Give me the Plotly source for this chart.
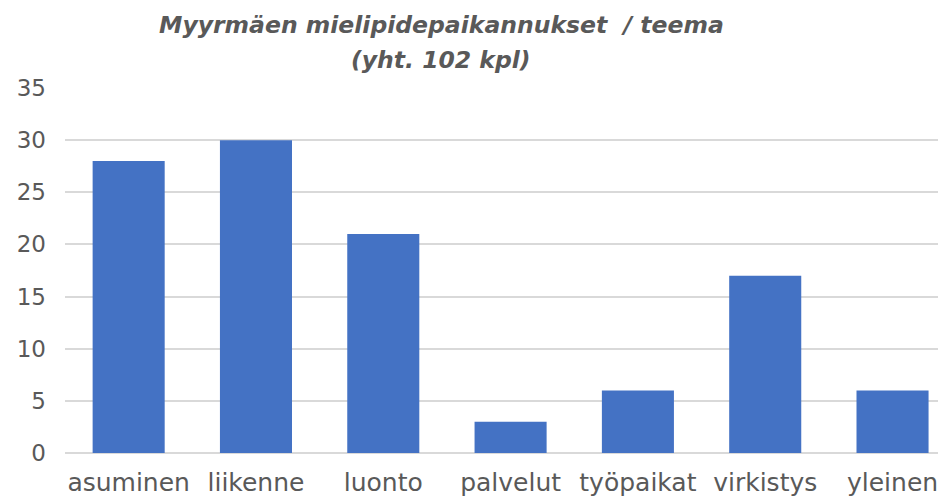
import plotly.graph_objects as go

categories = ["asuminen", "liikenne", "luonto", "palvelut", "työpaikat", "virkistys", "yleinen"]
values = [28, 30, 21, 3, 6, 17, 6]
y_ticks = [0, 5, 10, 15, 20, 25, 30, 35]
title_lines = ["Myyrmäen mielipidepaikannukset  / teema", "(yht. 102 kpl)"]

fig = go.Figure(go.Bar(x=categories, y=values, marker=dict(color="#4472C4", line=dict(width=0))))

gray = "#595959"
FONT = "DejaVu Sans, sans-serif"
title_y = [1.1726, 1.0767]
fig.update_layout(
    width=938, height=491,
    margin=dict(l=57, r=0, t=80, b=46),
    paper_bgcolor="white", plot_bgcolor="white",
    bargap=0.434,
    showlegend=False,
    font=dict(family=FONT, color=gray),
    annotations=[dict(
        text="<b><i>" + t + "</i></b>",
        xref="paper", yref="paper", x=0.427, y=yy, xanchor="center", yanchor="middle",
        showarrow=False, align="center",
        font=dict(family=FONT, size=23.5, color=gray),
    ) for t, yy in zip(title_lines, title_y)],
)
fig.update_xaxes(
    range=[-0.5, 6.42], showgrid=False, showline=False, zeroline=False, automargin=False,
    tickfont=dict(size=25, color=gray), ticklabelstandoff=12, fixedrange=True,
)
fig.update_yaxes(
    range=[0, 35], tickvals=y_ticks, showgrid=True, gridcolor="#d9d9d9", gridwidth=1.5,
    zeroline=True, zerolinecolor="#d9d9d9", zerolinewidth=1.5, showline=False, automargin=False,
    tickfont=dict(size=23, color=gray), ticklabelstandoff=18,
)
fig.write_html("out.html")
